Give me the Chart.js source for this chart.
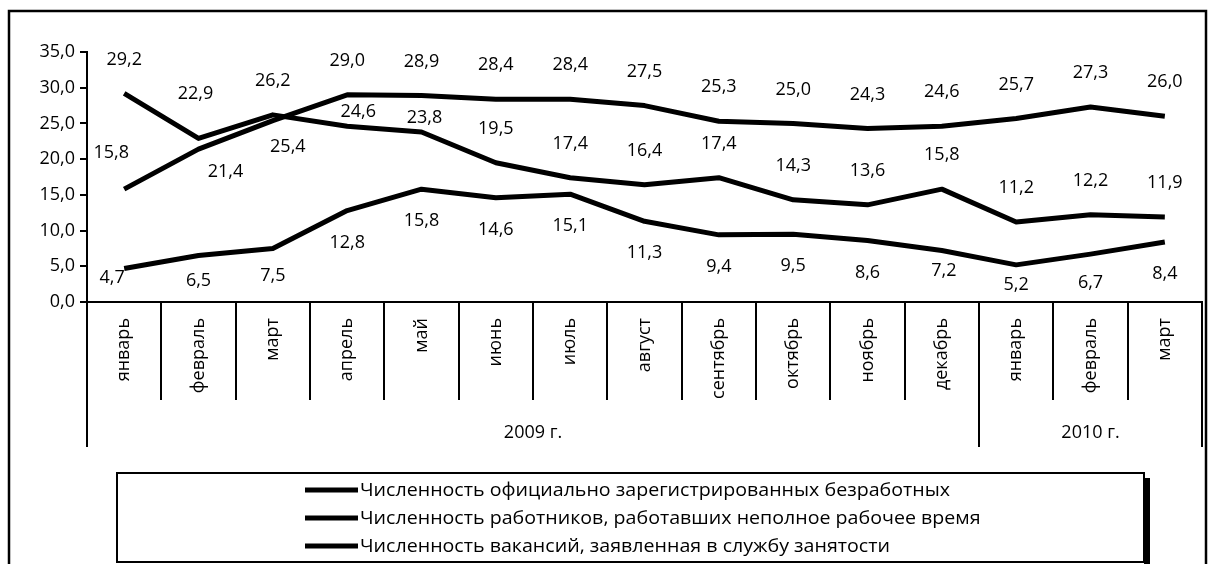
<!DOCTYPE html>
<html>
<head>
<meta charset="utf-8">
<script src="https://cdn.jsdelivr.net/npm/chart.js@4/dist/chart.umd.min.js"></script>
<style>
  html, body { margin: 0; padding: 0; background: #fff; }
</style>
</head>
<body>
<canvas id="chart" width="1211" height="564"></canvas>
<script>
// categories and values
const months = ['январь', 'февраль', 'март', 'апрель', 'май', 'июнь', 'июль', 'август',
  'сентябрь', 'октябрь', 'ноябрь', 'декабрь', 'январь', 'февраль', 'март'];
const yearLabels = ['2009 г.', '2010 г.'];
const yearSpans = [12, 3];

const seriesNames = [
  'Численность официально зарегистрированных безработных',
  'Численность работников, работавших неполное рабочее время',
  'Численность вакансий, заявленная в службу занятости'
];
const unemployed = [15.8, 21.4, 25.4, 29.0, 28.9, 28.4, 28.4, 27.5, 25.3, 25.0, 24.3, 24.6, 25.7, 27.3, 26.0];
const partTime = [29.2, 22.9, 26.2, 24.6, 23.8, 19.5, 17.4, 16.4, 17.4, 14.3, 13.6, 15.8, 11.2, 12.2, 11.9];
const vacancies = [4.7, 6.5, 7.5, 12.8, 15.8, 14.6, 15.1, 11.3, 9.4, 9.5, 8.6, 7.2, 5.2, 6.7, 8.4];

const yTicks = [0, 5, 10, 15, 20, 25, 30, 35];

// where each value label sits relative to its point (default dy, plus a few odd ones)
const labelOffsets = [
  { dy: -34, special: { 0: [-13, -36], 1: [27, 23], 2: [15, 26] } },
  { dy: -34, special: { 1: [-3, -45], 3: [11, -14], 4: [3, -14] } },
  { dy: 32, special: { 0: [-12, 9], 1: [0, 25], 2: [0, 27], 11: [2, 20], 12: [0, 20], 13: [0, 29] } }
];

const FONT = '18px "Open Sans", sans-serif';
const fmt = v => v.toFixed(1).replace('.', ',');

const valueLabels = {
  id: 'valueLabels',
  afterDatasetsDraw(chart) {
    const ctx = chart.ctx;
    ctx.save();
    ctx.font = FONT;
    ctx.fillStyle = '#000';
    ctx.textAlign = 'center';
    ctx.textBaseline = 'middle';
    chart.data.datasets.forEach((ds, i) => {
      const meta = chart.getDatasetMeta(i);
      const o = labelOffsets[i];
      meta.data.forEach((pt, j) => {
        const s = o.special[j] || [0, o.dy];
        ctx.fillText(fmt(ds.data[j]), pt.x + s[0], pt.y + s[1]);
      });
    });
    ctx.restore();
  }
};

const decorations = {
  id: 'decorations',
  afterDraw(chart) {
    const ctx = chart.ctx;
    const x = chart.scales.x;
    const axisY = chart.chartArea.bottom;
    const step = x.getPixelForValue(1) - x.getPixelForValue(0);
    const start = x.getPixelForValue(0) - step / 2;
    ctx.save();
    ctx.strokeStyle = '#000';
    ctx.fillStyle = '#000';

    // category separators and year groups
    const yearEdges = [0];
    yearSpans.forEach(n => yearEdges.push(yearEdges[yearEdges.length - 1] + n));
    ctx.lineWidth = 2;
    for (let i = 0; i <= months.length; i++) {
      const bx = Math.round(start + i * step);
      const bottom = yearEdges.includes(i) ? axisY + 145 : axisY + 98;
      ctx.beginPath();
      ctx.moveTo(bx, axisY);
      ctx.lineTo(bx, bottom);
      ctx.stroke();
    }
    ctx.font = FONT;
    ctx.textAlign = 'center';
    ctx.textBaseline = 'middle';
    yearLabels.forEach((lab, k) => {
      const cx = start + (yearEdges[k] + yearEdges[k + 1]) / 2 * step;
      ctx.fillText(lab, cx, axisY + 131);
    });

    // legend box
    ctx.fillRect(1144, 478, 6, 100);
    ctx.fillStyle = '#fff';
    ctx.fillRect(117, 473, 1027, 89);
    ctx.lineWidth = 2;
    ctx.strokeRect(117, 473, 1027, 89);
    ctx.font = '19px "Open Sans", sans-serif';
    ctx.textAlign = 'left';
    const k = 590 / ctx.measureText(seriesNames[0]).width;
    seriesNames.forEach((name, i) => {
      const ly = 490 + i * 28;
      ctx.lineWidth = 5;
      ctx.beginPath();
      ctx.moveTo(305, ly);
      ctx.lineTo(358, ly);
      ctx.stroke();
      ctx.save();
      ctx.translate(360, ly);
      ctx.scale(k, 1);
      ctx.fillStyle = '#000';
      ctx.fillText(name, 0, 1);
      ctx.restore();
    });

    // outer frame
    ctx.lineWidth = 2.5;
    ctx.strokeRect(9, 11, 1197, 700);
    ctx.restore();
  }
};

new Chart(document.getElementById('chart'), {
  type: 'line',
  data: {
    labels: months,
    datasets: [unemployed, partTime, vacancies].map((d, i) => ({
      label: seriesNames[i],
      data: d,
      borderColor: '#000',
      borderWidth: 5,
      borderJoinStyle: 'round',
      pointRadius: 0,
      tension: 0,
      fill: false
    }))
  },
  options: {
    responsive: false,
    animation: false,
    devicePixelRatio: 1,
    layout: { padding: { top: 52, right: 9, left: 0, bottom: 0 } },
    plugins: { legend: { display: false }, tooltip: { enabled: false } },
    scales: {
      x: {
        offset: true,
        afterFit: s => { s.height = 262; },
        grid: { drawOnChartArea: false, drawTicks: false },
        border: { color: '#000', width: 2 },
        ticks: {
          color: '#000', font: { family: 'Open Sans', size: 18 },
          minRotation: 90, maxRotation: 90, autoSkip: false, padding: 16
        }
      },
      y: {
        min: 0, max: 35,
        afterFit: s => { s.width = 87; },
        afterBuildTicks: s => { s.ticks = yTicks.map(v => ({ value: v })); },
        grid: { drawOnChartArea: false, tickLength: 7, color: '#000', lineWidth: 2 },
        border: { color: '#000', width: 2 },
        ticks: { color: '#000', font: { family: 'Open Sans', size: 18 }, padding: 5, callback: v => fmt(v) }
      }
    }
  },
  plugins: [valueLabels, decorations]
});
</script>
</body>
</html>
